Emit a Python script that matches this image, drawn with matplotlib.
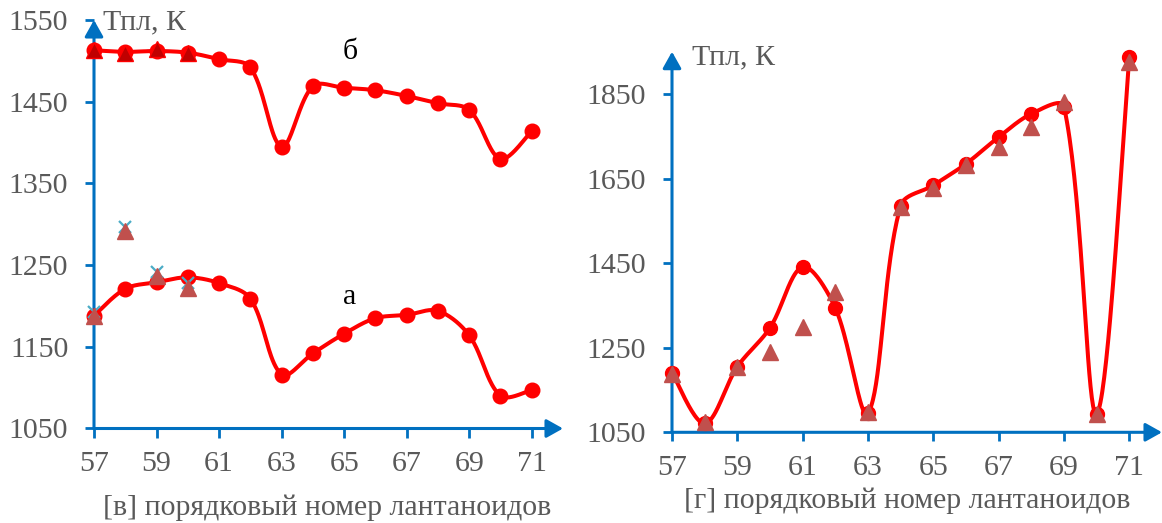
import numpy as np
import matplotlib
matplotlib.use("Agg")
import matplotlib.pyplot as plt

# ---------------- data ----------------
z = list(range(57, 72))

left_b_circ = [1513, 1511, 1512, 1510, 1502, 1492, 1395, 1469, 1467, 1464, 1457, 1448, 1440, 1380, 1414]
left_b_tri_z = [57, 58, 59, 60]
left_b_tri = [1513, 1510, 1514, 1510]

left_a_circ = [1188, 1221, 1229, 1235, 1228, 1209, 1116, 1142, 1166, 1185, 1189, 1194, 1164, 1090, 1097]
left_a_tri_z = [57, 58, 59, 60]
left_a_tri = [1188, 1292, 1237, 1222]
left_a_x = [1193, 1297, 1242, 1228]

right_circ = [1191, 1071, 1205, 1297, 1441, 1344, 1095, 1586, 1634, 1685, 1748, 1803, 1820, 1094, 1938]
right_tri = [1188, 1074, 1205, 1240, 1298, 1382, 1097, 1582, 1628, 1681, 1724, 1773, 1830, 1093, 1926]

left_yticks = [1050, 1150, 1250, 1350, 1450, 1550]
right_yticks = [1050, 1250, 1450, 1650, 1850]
xticks = [57, 59, 61, 63, 65, 67, 69, 71]

# ---------------- style ----------------
W, H = 1162, 523
BLUE = "#0070C0"
GRAY = "#595959"
RED = "#FF0000"
TRI = "#C0504D"
FONT = "Liberation Serif"
FS = 21.5
plt.rcParams["font.family"] = [FONT, "DejaVu Serif"]


def smooth(ax, xs, ys, n=40):
    """Excel-like smoothed line: Bezier with length-weighted control points
    (computed in display space, so the result follows the axes' scales)."""
    fig.canvas.draw_idle()
    P = ax.transData.transform(np.column_stack([xs, ys]).astype(float))
    N = len(P)
    d = np.linalg.norm(np.diff(P, axis=0), axis=1)
    f = 1.0 / 3.0
    out = []
    for i in range(N - 1):
        p1, p2 = P[i], P[i + 1]
        if i > 0:
            T1 = P[i + 1] - P[i - 1]
            c1 = p1 + T1 * f * d[i] / (d[i - 1] + d[i])
        else:
            c1 = p1 + (p2 - p1) * f * 0.5
        if i + 2 < N:
            T2 = P[i + 2] - P[i]
            c2 = p2 - T2 * f * d[i] / (d[i] + d[i + 1])
        else:
            c2 = p2 - (p2 - p1) * f * 0.5
        t = np.linspace(0, 1, n)[:, None]
        seg = ((1 - t) ** 3) * p1 + 3 * ((1 - t) ** 2) * t * c1 + 3 * (1 - t) * t ** 2 * c2 + t ** 3 * p2
        out.append(seg if i == 0 else seg[1:])
    S = ax.transData.inverted().transform(np.vstack(out))
    return S[:, 0], S[:, 1]


def style_axes(ax, ylim, yticks):
    ax.set_xlim(57, 72)
    ax.set_ylim(*ylim)
    for s in ax.spines.values():
        s.set_visible(False)
    ax.set_xticks(xticks)
    ax.set_yticks(yticks)
    ax.tick_params(axis="both", direction="out", length=6.5, width=2.0, color=BLUE,
                   labelsize=FS, labelcolor=GRAY)
    ax.tick_params(axis="y", pad=12)
    ax.tick_params(axis="x", pad=10)
    for lab in ax.get_xticklabels() + ax.get_yticklabels():
        lab.set_fontfamily(FONT)
    arrow = dict(arrowstyle="-|>,head_length=0.5,head_width=0.28", color=BLUE, lw=2.2,
                 shrinkA=0, shrinkB=0, mutation_scale=20)
    ax.annotate("", xy=(1, 0), xytext=(0, 0), xycoords="axes fraction",
                textcoords="axes fraction", arrowprops=arrow, annotation_clip=False)
    ax.annotate("", xy=(0, 1), xytext=(0, 0), xycoords="axes fraction",
                textcoords="axes fraction", arrowprops=arrow, annotation_clip=False)
    ax.set_facecolor("none")


fig = plt.figure(figsize=(W / 100, H / 100), dpi=100)

# ---------- left panel ----------
axL = fig.add_axes([94 / W, 1 - 428.5 / H, (563 - 94) / W, (428.5 - 20) / H])
style_axes(axL, (1050, 1550), left_yticks)

for circ in (left_b_circ, left_a_circ):
    sx, sy = smooth(axL, z, circ)
    axL.plot(sx, sy, color=RED, lw=2.9, zorder=3, clip_on=False, solid_capstyle="round")
    axL.plot(z, circ, "o", color=RED, ms=10.5, zorder=4, clip_on=False)

axL.plot(left_b_tri_z, left_b_tri, "--", color="#95B3D7", lw=1.2, zorder=2.5, clip_on=False)
axL.plot(left_b_tri_z, left_b_tri, "^", color="#C00000", mec=RED, mew=1.0, ms=11,
         zorder=5, clip_on=False)
axL.plot(left_a_tri_z, left_a_x, "x", color="#4BACC6", ms=9, mew=1.6, zorder=4.5, clip_on=False)
axL.plot(left_a_tri_z, left_a_tri, "^", color=TRI, ms=11, zorder=5, clip_on=False)

fig.text(350 / W, 1 - 52 / H, "б", fontsize=FS, color="black", ha="center", va="center")
fig.text(350 / W, 1 - 297 / H, "а", fontsize=FS, color="black", ha="center", va="center")

# ---------- right panel ----------
axR = fig.add_axes([672 / W, 1 - 432.3 / H, (1162 - 672) / W, (432.3 - 51.7) / H])
style_axes(axR, (1050, 1950), right_yticks)

sx, sy = smooth(axR, z, right_circ)
axR.plot(sx, sy, color=RED, lw=2.9, zorder=3, clip_on=False, solid_capstyle="round")
axR.plot(z, right_circ, "o", color=RED, ms=10, zorder=4, clip_on=False)
axR.plot(z, right_tri, "^", color=TRI, ms=11, zorder=5, clip_on=False)

# ---------- axis texts ----------
fig.text(103 / W, 1 - 29 / H, "Тпл, К", fontsize=FS, color=GRAY, va="baseline", ha="left")
fig.text(692 / W, 1 - 64 / H, "Тпл, К", fontsize=FS, color=GRAY, va="baseline", ha="left")
fig.text(327 / W, 1 - 515 / H, "[в] порядковый номер лантаноидов", fontsize=FS, color=GRAY,
         ha="center", va="baseline")
fig.text(907 / W, 1 - 508 / H, "[г] порядковый номер лантаноидов", fontsize=FS, color=GRAY,
         ha="center", va="baseline")

fig.savefig("out.png", dpi=100, facecolor="white")
